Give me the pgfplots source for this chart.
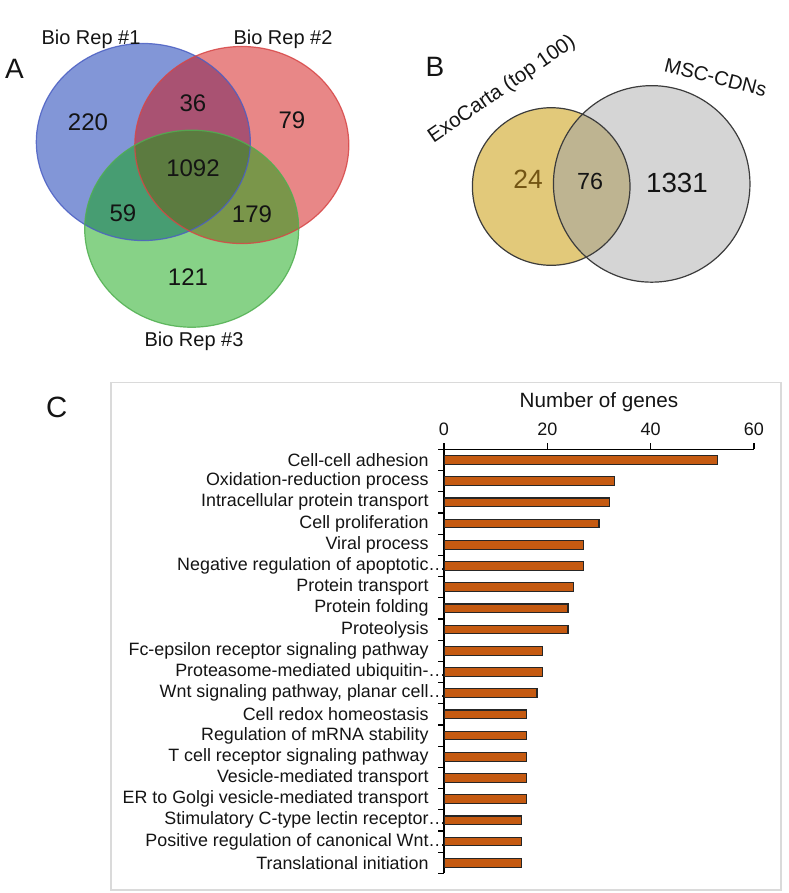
\documentclass[border=0pt]{standalone}
\usepackage{pgfplots}
\pgfplotsset{compat=1.18}
\usepackage{fontspec}
\setmainfont{Liberation Sans}
\newcommand{\fs}[1]{\fontsize{#1}{#1}\selectfont}
\definecolor{vblue}{RGB}{5,45,175}
\definecolor{vred}{RGB}{209,15,15}
\definecolor{vgreen}{RGB}{15,165,15}
\definecolor{bblue}{RGB}{75,95,195}
\definecolor{bred}{RGB}{215,70,70}
\definecolor{bgreen}{RGB}{80,175,80}
\definecolor{vyellow}{RGB}{226,201,122}
\definecolor{vgray}{RGB}{213,213,213}
\definecolor{vover}{RGB}{190,180,145}
\definecolor{vedge}{RGB}{60,60,60}
\definecolor{brown24}{RGB}{115,85,20}
\definecolor{barorange}{RGB}{197,90,17}
\definecolor{framegray}{RGB}{218,218,218}
\definecolor{txt}{RGB}{20,20,20}
\begin{document}
\begin{tikzpicture}
\path[use as bounding box] (0pt,0pt) rectangle (591.75pt,-669.75pt);
% ---------- canvas axis for the Venn diagrams (pixel coordinates) ----------
\begin{axis}[
  at={(0pt,0pt)}, anchor=north west,
  scale only axis, width=591.75pt, height=669.75pt,
  xmin=0, xmax=789, ymin=0, ymax=893, y dir=reverse,
  hide axis, clip=false]
% Venn A
\fill[vblue, fill opacity=0.5] (axis cs:143.3,142) ellipse [x radius=80.25pt, y radius=73.9pt];
\fill[vred, fill opacity=0.5] (axis cs:241.8,145) ellipse [x radius=80.25pt, y radius=73.9pt];
\fill[vgreen, fill opacity=0.5] (axis cs:191.7,228.7) ellipse [x radius=80.25pt, y radius=73.9pt];
\draw[bblue, line width=0.9pt, draw opacity=0.85] (axis cs:143.3,142) ellipse [x radius=80.25pt, y radius=73.9pt];
\draw[bred, line width=0.9pt, draw opacity=0.85] (axis cs:241.8,145) ellipse [x radius=80.25pt, y radius=73.9pt];
\draw[bgreen, line width=0.9pt, draw opacity=0.85] (axis cs:191.7,228.7) ellipse [x radius=80.25pt, y radius=73.9pt];
\node[anchor=base, font=\fs{15}, text=txt, inner sep=0pt] at (axis cs:91,44.5) {Bio Rep \#1};
\node[anchor=base, font=\fs{15}, text=txt, inner sep=0pt] at (axis cs:283,44.5) {Bio Rep \#2};
\node[anchor=base, font=\fs{15}, text=txt, inner sep=0pt] at (axis cs:194,346.7) {Bio Rep \#3};
\node[anchor=base, font=\fs{21}, text=txt, inner sep=0pt] at (axis cs:14.5,78) {A};
\node[anchor=base, font=\fs{18}, text=txt, inner sep=0pt] at (axis cs:88,130) {220};
\node[anchor=base, font=\fs{18}, text=txt, inner sep=0pt] at (axis cs:193,111.7) {36};
\node[anchor=base, font=\fs{18}, text=txt, inner sep=0pt] at (axis cs:292,128.3) {79};
\node[anchor=base, font=\fs{18}, text=txt, inner sep=0pt] at (axis cs:193,176.7) {1092};
\node[anchor=base, font=\fs{18}, text=txt, inner sep=0pt] at (axis cs:123,221.7) {59};
\node[anchor=base, font=\fs{18}, text=txt, inner sep=0pt] at (axis cs:252,222.7) {179};
\node[anchor=base, font=\fs{18}, text=txt, inner sep=0pt] at (axis cs:188,285) {121};
% Venn B
\fill[vyellow] (axis cs:551.2,186.5) circle [radius=59.1pt];
\fill[vgray] (axis cs:651.7,183.9) circle [radius=73.7pt];
\begin{scope}
\clip (axis cs:551.2,186.5) circle [radius=59.1pt];
\fill[vover] (axis cs:651.7,183.9) circle [radius=73.7pt];
\end{scope}
\draw[vedge, line width=0.9pt] (axis cs:551.2,186.5) circle [radius=59.1pt];
\draw[vedge, line width=0.9pt] (axis cs:651.7,183.9) circle [radius=73.7pt];
\node[anchor=base, font=\fs{21}, text=txt, inner sep=0pt] at (axis cs:435,76.7) {B};
\node[anchor=base, font=\fs{19.8}, text=brown24, inner sep=0pt] at (axis cs:528,188.3) {24};
\node[anchor=base, font=\fs{17.5}, text=txt, inner sep=0pt] at (axis cs:590,189.3) {76};
\node[anchor=base, font=\fs{20.8}, text=txt, inner sep=0pt] at (axis cs:677,192.7) {1331};
\node[anchor=base, font=\fs{15.4}, text=txt, inner sep=0pt, rotate=34.5] at (axis cs:505,94) {ExoCarta (top 100)};
\node[anchor=base, font=\fs{15}, text=txt, inner sep=0pt, rotate=-14] at (axis cs:714,83.8) {MSC-CDNs};
% Panel C frame and letter
\draw[framegray, line width=0.9pt] (axis cs:111,382.7) rectangle (axis cs:781,890);
\node[anchor=base, font=\fs{22}, text=txt, inner sep=0pt] at (axis cs:56.7,417.3) {C};
\end{axis}
% ---------- bar chart ----------
\begin{axis}[
  at={(333pt,-336.975pt)}, anchor=north west,
  scale only axis, width=232.5pt, height=318pt,
  xbar, bar width=6.5pt,
  xmin=0, xmax=60, ymin=0.5, ymax=20.5,
  axis x line*=top, axis y line*=left,
  axis line style={line width=0.9pt, black},
  xtick={0,20,40,60},
  tick align=outside, major tick length=4.5pt, minor tick length=4.5pt,
  every tick/.style={line width=0.9pt, black},
  major y tick style={draw=none},
  minor y tick style={line width=0.9pt, black},
  ytick={1,...,20},
  minor ytick={0.5,1.5,...,20.5},
  yticklabels={Translational initiation,
    Positive regulation of canonical Wnt\rlap{…},
    Stimulatory C-type lectin receptor\rlap{…},
    ER to Golgi vesicle-mediated transport,
    Vesicle-mediated transport,
    T cell receptor signaling pathway,
    Regulation of mRNA stability,
    Cell redox homeostasis,
    {Wnt signaling pathway, planar cell\rlap{…}},
    Proteasome-mediated ubiquitin-\rlap{…},
    Fc-epsilon receptor signaling pathway,
    Proteolysis,
    Protein folding,
    Protein transport,
    Negative regulation of apoptotic\rlap{…},
    Viral process,
    Cell proliferation,
    Intracellular protein transport,
    Oxidation-reduction process,
    Cell-cell adhesion},
  yticklabel style={font=\fs{13.4}, text=txt, anchor=east, inner sep=0pt, xshift=-6.9pt},
  xticklabel style={font=\fs{13.5}, text=txt, yshift=2pt},
  /pgf/number format/assume math mode=true,
  xlabel={Number of genes},
  xlabel style={font=\fs{15.5}, text=txt, at={(axis description cs:0.5,1)}, anchor=base, yshift=31.5pt, inner sep=0pt},
]
\addplot[fill=barorange, draw=black!85, line width=0.8pt] coordinates {
  (53,20) (33,19) (32,18) (30,17) (27,16) (27,15) (25,14) (24,13) (24,12) (19,11)
  (19,10) (18,9) (16,8) (16,7) (16,6) (16,5) (16,4) (15,3) (15,2) (15,1)
};
\end{axis}
\end{tikzpicture}
\end{document}
